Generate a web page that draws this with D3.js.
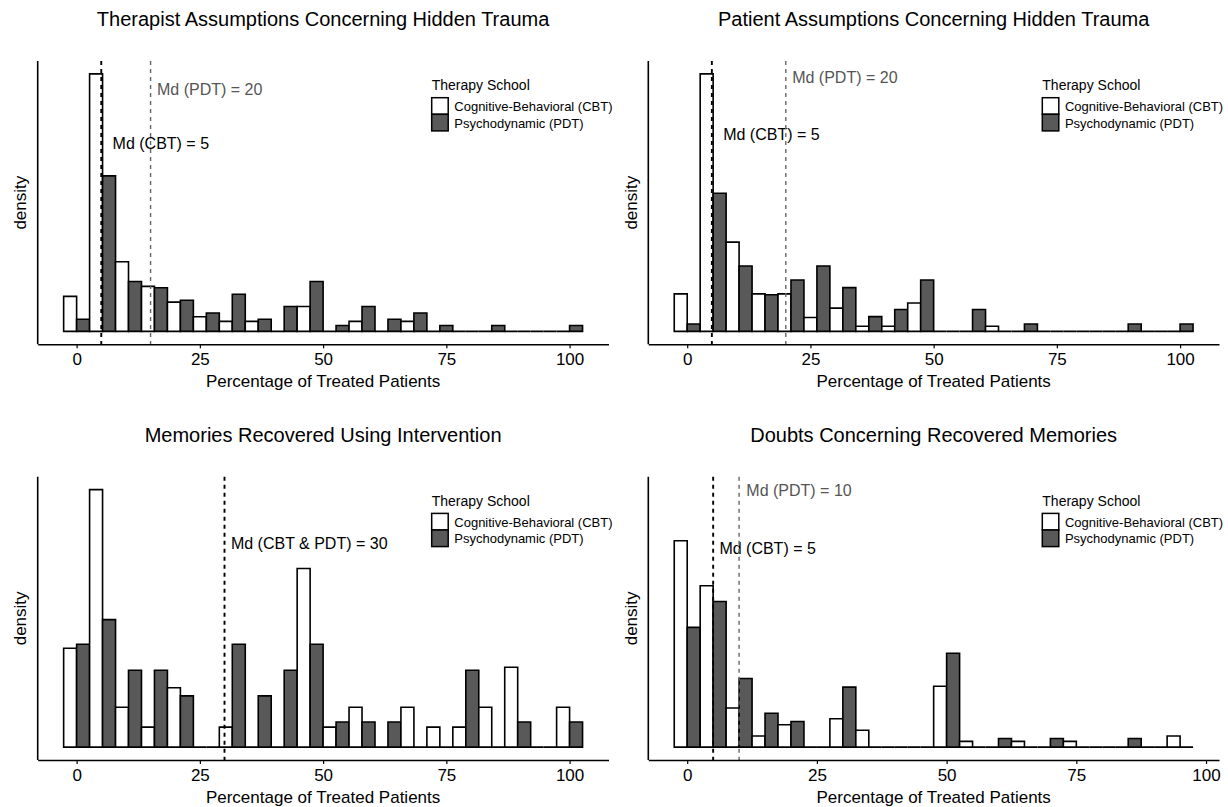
<!DOCTYPE html>
<html>
<head>
<meta charset="utf-8">
<script src="https://cdn.jsdelivr.net/npm/d3@7"></script>
<style>
  html, body { margin: 0; padding: 0; background: #fff; }
  svg { display: block; font-family: "Liberation Sans", Arial, Helvetica, sans-serif; }
</style>
</head>
<body>
<div id="chart"></div>
<script>
// -- data (densities per bin)
const schools = ['Cognitive-Behavioral (CBT)', 'Psychodynamic (PDT)'];
const titles = [
  'Therapist Assumptions Concerning Hidden Trauma',
  'Patient Assumptions Concerning Hidden Trauma',
  'Memories Recovered Using Intervention',
  'Doubts Concerning Recovered Memories'
];
const xTicks = [0, 25, 50, 75, 100];
const binWidths = [100 / 19, 100 / 19, 100 / 19, 5];

const therapistCBT = [0.0129, 0.0949, 0.0257, 0.0166, 0.0108, 0.0054, 0.0037, 0.0037, 0, 0.0092, 0, 0.0037, 0, 0.0037, 0, 0, 0, 0, 0, 0];
const therapistPDT = [0.0045, 0.0573, 0.0184, 0.0161, 0.0115, 0.0068, 0.0137, 0.0045, 0.0092, 0.0184, 0.0022, 0.0092, 0.0045, 0.0068, 0.0022, 0, 0.0022, 0, 0, 0.0022];

const patientCBT = [0.0132, 0.0906, 0.0314, 0.0132, 0.0132, 0.0049, 0.0082, 0.0018, 0.0018, 0.0100, 0, 0, 0.0018, 0, 0, 0, 0, 0, 0, 0];
const patientPDT = [0.0026, 0.0486, 0.0230, 0.0129, 0.0181, 0.0230, 0.0154, 0.0052, 0.0077, 0.0181, 0, 0.0077, 0, 0.0026, 0, 0, 0, 0.0026, 0, 0.0026];

const memoriesCBT = [0.0193, 0.0503, 0.0078, 0.0039, 0.0116, 0, 0.0039, 0, 0, 0.0349, 0.0039, 0.0078, 0, 0.0078, 0.0039, 0.0039, 0.0078, 0.0156, 0, 0.0078];
const memoriesPDT = [0.0201, 0.0249, 0.0150, 0.0150, 0.0100, 0, 0.0201, 0.0100, 0.0150, 0.0201, 0.0049, 0.0049, 0.0049, 0, 0, 0.0150, 0, 0.0049, 0, 0.0049];

const doubtsCBT = [0.0719, 0.0562, 0.0136, 0.0039, 0.0078, 0, 0.0099, 0.0059, 0, 0, 0.0212, 0.0020, 0, 0.0020, 0, 0.0020, 0, 0, 0, 0.0039];
const doubtsPDT = [0.0417, 0.0507, 0.0239, 0.0118, 0.0089, 0, 0.0209, 0, 0, 0, 0.0327, 0, 0.0030, 0, 0.0030, 0, 0, 0.0030, 0, 0];

// upper end of the density scale (panel 4 is stretched by its label)
const yMaxes = [0.0949, 0.0906, 0.0503, 0.0897];

// median lines: [value, group]
const therapistMedians = [[5, 'CBT'], [15, 'PDT']];
const patientMedians = [[5, 'CBT'], [20, 'PDT']];
const memoriesMedians = [[30, 'CBT']];
const doubtsMedians = [[5, 'CBT'], [10, 'PDT']];

// median labels: [text, x, y, group]
const therapistLabels = [['Md (PDT) = 20', 16.3, 0.0892, 'PDT'], ['Md (CBT) = 5', 7.3, 0.0694, 'CBT']];
const patientLabels = [['Md (PDT) = 20', 21.3, 0.0894, 'PDT'], ['Md (CBT) = 5', 7.3, 0.0692, 'CBT']];
const memoriesLabels = [['Md (CBT & PDT) = 30', 31.3, 0.0398, 'CBT']];
const doubtsLabels = [['Md (PDT) = 10', 11.4, 0.0893, 'PDT'], ['Md (CBT) = 5', 6.2, 0.0693, 'CBT']];

const panelData = [
  { cbt: therapistCBT, pdt: therapistPDT, medians: therapistMedians, labels: therapistLabels },
  { cbt: patientCBT, pdt: patientPDT, medians: patientMedians, labels: patientLabels },
  { cbt: memoriesCBT, pdt: memoriesPDT, medians: memoriesMedians, labels: memoriesLabels },
  { cbt: doubtsCBT, pdt: doubtsPDT, medians: doubtsMedians, labels: doubtsLabels }
];

// -- layout
const width = 1228, height = 807;
const lefts = [37.7, 648.3], rights = [608.5, 1219];
const tops = [61, 476.7], bottoms = [344.3, 760];
const fillColor = { CBT: '#ffffff', PDT: '#595959' };
const lineColor = { CBT: '#000000', PDT: '#666666' };
const textColor = { CBT: '#000000', PDT: '#555555' };

const svg = d3.select('#chart').append('svg')
  .attr('width', width)
  .attr('height', height);

panelData.forEach((p, i) => {
  const col = i % 2, row = Math.floor(i / 2);
  const x0 = lefts[col], x1 = rights[col], y0 = tops[row], y1 = bottoms[row];
  const bw = binWidths[i];
  const n = p.cbt.length;
  const lo = -bw / 2, hi = (n - 1) * bw + bw / 2;
  const pad = (hi - lo) * 0.05;
  const x = d3.scaleLinear().domain([lo - pad, hi + pad]).range([x0, x1]);
  const yMax = yMaxes[i];
  const y = d3.scaleLinear().domain([-0.05 * yMax, 1.05 * yMax]).range([y1, y0]);

  const g = svg.append('g');

  // title
  g.append('text')
    .attr('x', (x0 + x1) / 2)
    .attr('y', y0 - 42)
    .attr('text-anchor', 'middle')
    .attr('dominant-baseline', 'central')
    .attr('font-size', 20)
    .attr('fill', '#000')
    .text(titles[i]);

  // bars: CBT on the left half of each bin, PDT on the right half
  const bars = [];
  d3.range(n).forEach(k => {
    const c = k * bw;
    bars.push({ group: 'CBT', a: c - bw / 2, b: c, v: p.cbt[k] });
    bars.push({ group: 'PDT', a: c, b: c + bw / 2, v: p.pdt[k] });
  });
  g.append('g')
    .selectAll('path')
    .data(bars)
    .join('path')
    .attr('d', d => `M${x(d.a)},${y(0)}V${y(d.v)}H${x(d.b)}V${y(0)}Z`)
    .attr('fill', d => fillColor[d.group])
    .attr('stroke', '#000')
    .attr('stroke-width', 1.6)
    .attr('stroke-linejoin', 'miter');

  // median labels
  g.append('g')
    .selectAll('text')
    .data(p.labels)
    .join('text')
    .attr('x', d => x(d[1]))
    .attr('y', d => y(d[2]))
    .attr('dominant-baseline', 'central')
    .attr('font-size', 16)
    .attr('fill', d => textColor[d[3]])
    .text(d => d[0]);

  // median lines
  g.append('g')
    .selectAll('line')
    .data(p.medians)
    .join('line')
    .attr('x1', d => x(d[0]))
    .attr('x2', d => x(d[0]))
    .attr('y1', y0)
    .attr('y2', y1)
    .attr('stroke', d => lineColor[d[1]])
    .attr('stroke-width', d => d[1] === 'CBT' ? 1.9 : 1.4)
    .attr('stroke-dasharray', '4,4');

  // axes
  const xAxis = g.append('g')
    .attr('transform', `translate(0,${y1})`)
    .call(d3.axisBottom(x).tickValues(xTicks).tickSize(4).tickSizeOuter(0).tickPadding(5));
  xAxis.select('.domain').attr('stroke', '#000').attr('stroke-width', 1.6);
  xAxis.selectAll('.tick line').attr('stroke', '#000').attr('stroke-width', 1.2);
  xAxis.selectAll('text')
    .attr('font-size', 17)
    .attr('font-family', '"Liberation Sans", Arial, sans-serif')
    .attr('fill', '#000');

  g.append('line')
    .attr('x1', x0).attr('x2', x0)
    .attr('y1', y0).attr('y2', y1)
    .attr('stroke', '#000')
    .attr('stroke-width', 1.6);

  g.append('text')
    .attr('x', (x0 + x1) / 2)
    .attr('y', y1 + 37)
    .attr('text-anchor', 'middle')
    .attr('dominant-baseline', 'central')
    .attr('font-size', 17)
    .text('Percentage of Treated Patients');

  g.append('text')
    .attr('transform', `translate(${x0 - 17},${(y0 + y1) / 2}) rotate(-90)`)
    .attr('text-anchor', 'middle')
    .attr('dominant-baseline', 'central')
    .attr('font-size', 17)
    .text('density');

  // legend
  const lg = g.append('g').attr('transform', `translate(${x0 + 394},${y0 + 24})`);
  lg.append('text')
    .attr('dominant-baseline', 'central')
    .attr('font-size', 14)
    .text('Therapy School');
  lg.selectAll('rect')
    .data(schools)
    .join('rect')
    .attr('x', 0)
    .attr('y', (d, j) => 12.7 + j * 16.6)
    .attr('width', 16.5)
    .attr('height', 16.6)
    .attr('fill', (d, j) => j === 0 ? fillColor.CBT : fillColor.PDT)
    .attr('stroke', '#000')
    .attr('stroke-width', 1.5);
  lg.selectAll('text.item')
    .data(schools)
    .join('text')
    .attr('class', 'item')
    .attr('x', 22.6)
    .attr('y', (d, j) => 21.7 + j * 16.6)
    .attr('dominant-baseline', 'central')
    .attr('font-size', 13)
    .text(d => d);
});
</script>
</body>
</html>
